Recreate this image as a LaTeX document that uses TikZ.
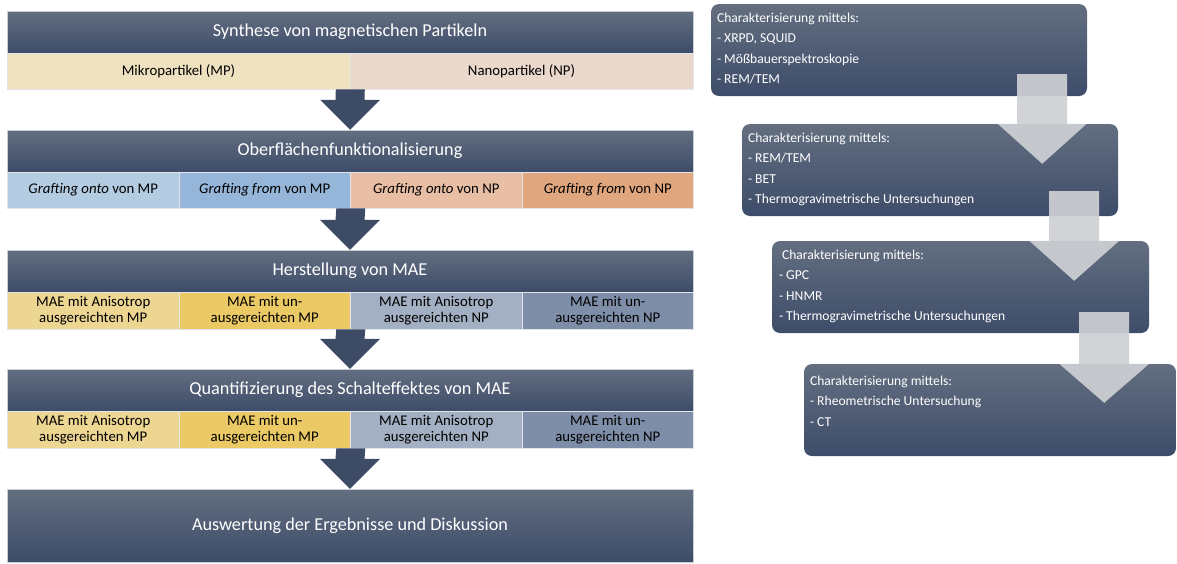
\documentclass[tikz,border=0pt]{standalone}
\usepackage{fontspec}
\setmainfont{Carlito}
\usetikzlibrary{calc}

\definecolor{hdrtop}{HTML}{636E80}
\definecolor{hdrbot}{HTML}{3D4C69}
\definecolor{hdrline}{HTML}{C9CDD4}
\definecolor{cellline}{HTML}{E2E4E8}
\definecolor{darrow}{HTML}{3D4B66}
\definecolor{larrow}{HTML}{CDD0D4}
\definecolor{mpbeige}{HTML}{EFE2C0}
\definecolor{nprose}{HTML}{EBD8CC}
\definecolor{blueA}{HTML}{B4CCE2}
\definecolor{blueB}{HTML}{95B6D9}
\definecolor{orangeA}{HTML}{E8BFA5}
\definecolor{orangeB}{HTML}{E0A67E}
\definecolor{goldA}{HTML}{EDD592}
\definecolor{goldB}{HTML}{EBC965}
\definecolor{slateA}{HTML}{A3AFC2}
\definecolor{slateB}{HTML}{7F8EA8}

% block arrow pointing down: style, top point, tip point, shaft half width, head half width, head length
\newcommand\blockdown[6]{%
  \fill[#1] ($(#2)+(-#4,0)$) -- ($(#2)+(#4,0)$) -- ($(#3)+(#4,-#6)$) -- ($(#3)+(#5,-#6)$)
    -- (#3) -- ($(#3)+(-#5,-#6)$) -- ($(#3)+(-#4,-#6)$) -- cycle;}

\begin{document}
\begin{tikzpicture}[x=1pt,y=-1pt,
  hdr/.style={rectangle, draw=hdrline, line width=0.5pt, top color=hdrtop, bottom color=hdrbot,
    text=white, font=\fontsize{18.2}{21}\selectfont, minimum width=686, minimum height=42, inner sep=0},
  cell/.style={rectangle, draw=cellline, line width=0.6pt, font=\fontsize{14.8}{15.5}\selectfont,
    align=center, inner sep=0, minimum height=36},
  half/.style={cell, minimum width=343},
  quarter/.style={cell, minimum width=171.5},
  charbox/.style={rectangle, rounded corners=8pt, top color=hdrtop, bottom color=hdrbot,
    minimum height=92, inner sep=0},
  chartext/.style={anchor=north west, text=white, align=left, inner sep=0,
    font=\fontsize{13.6}{20.4}\selectfont},
]
\useasboundingbox (0,0) rectangle (1177,563);

% ---------- process column ----------
\node[hdr] (h1) at (350,32) {Synthese von magnetischen Partikeln};
\node[half, fill=mpbeige] (s1a) at (178.5,71) {Mikropartikel (MP)};
\node[half, fill=nprose]  (s1b) at (521.5,71) {Nanopartikel (NP)};

\node[hdr] (h2) at (350,151) {Oberflächenfunktionalisierung};
\node[quarter, fill=blueA]   (s2a) at (93.25,190)  {\textit{Grafting onto} von MP};
\node[quarter, fill=blueB]   (s2b) at (264.75,190) {\textit{Grafting from} von MP};
\node[quarter, fill=orangeA] (s2c) at (436.25,190) {\textit{Grafting onto} von NP};
\node[quarter, fill=orangeB] (s2d) at (607.75,190) {\textit{Grafting from} von NP};

\node[hdr] (h3) at (350,271) {Herstellung von MAE};
\node[quarter, fill=goldA, minimum height=37]  (s3a) at (93.25,310.5)  {MAE mit Anisotrop\\ausgereichten MP};
\node[quarter, fill=goldB, minimum height=37]  (s3b) at (264.75,310.5) {MAE mit un-\\ausgereichten MP};
\node[quarter, fill=slateA, minimum height=37] (s3c) at (436.25,310.5) {MAE mit Anisotrop\\ausgereichten NP};
\node[quarter, fill=slateB, minimum height=37] (s3d) at (607.75,310.5) {MAE mit un-\\ausgereichten NP};

\node[hdr] (h4) at (350,390) {Quantifizierung des Schalteffektes von MAE};
\node[quarter, fill=goldA, minimum height=37]  (s4a) at (93.25,429.5)  {MAE mit Anisotrop\\ausgereichten MP};
\node[quarter, fill=goldB, minimum height=37]  (s4b) at (264.75,429.5) {MAE mit un-\\ausgereichten MP};
\node[quarter, fill=slateA, minimum height=37] (s4c) at (436.25,429.5) {MAE mit Anisotrop\\ausgereichten NP};
\node[quarter, fill=slateB, minimum height=37] (s4d) at (607.75,429.5) {MAE mit un-\\ausgereichten NP};

\node[hdr, minimum height=73] (h5) at (350,525.5) {Auswertung der Ergebnisse und Diskussion};

% dark arrows between the stages
\blockdown{darrow}{s1a.south east}{h2.north}{14.5}{30}{30}
\blockdown{darrow}{s2b.south east}{h3.north}{14.5}{30}{30}
\blockdown{darrow}{s3b.south east}{h4.north}{14.5}{30}{30}
\blockdown{darrow}{s4b.south east}{h5.north}{14.5}{30}{30}

% ---------- characterisation column ----------
\node[charbox, minimum width=376] (c1) at (899,50) {};
\node[chartext] (t1) at ($(c1.north west)+(6,9)$)
  {Charakterisierung mittels:\\- XRPD, SQUID\\- Mößbauerspektroskopie\\- REM/TEM};

\node[charbox, minimum width=376] (c2) at (930,170) {};
\node[chartext] (t2) at ($(c2.north west)+(6,9)$)
  {Charakterisierung mittels:\\- REM/TEM\\- BET\\- Thermogravimetrische Untersuchungen};

\node[charbox, minimum width=377] (c3) at (960.5,287) {};
\node[chartext] (t3) at ($(c3.north west)+(7,9)$)
  {\hspace{3pt}Charakterisierung mittels:\\- GPC\\- HNMR\\- Thermogravimetrische Untersuchungen};

\node[charbox, minimum width=372] (c4) at (990,410) {};
\node[chartext] (t4) at ($(c4.north west)+(6,12)$)
  {Charakterisierung mittels:\\- Rheometrische Untersuchung\\- CT};

% light arrows linking the characterisation boxes
\coordinate (r1t) at ($(c1.south east)+(-45,-22)$);
\coordinate (r1h) at ($(r1t |- c2.north)+(0,40)$);
\blockdown{larrow, opacity=0.93}{r1t}{r1h}{25}{44.5}{40}
\coordinate (r2t) at ($(c2.south east)+(-44,-25)$);
\coordinate (r2h) at ($(r2t |- c3.north)+(0,40)$);
\blockdown{larrow, opacity=0.93}{r2t}{r2h}{25}{45}{40}
\coordinate (r3t) at ($(c3.south east)+(-45,-21)$);
\coordinate (r3h) at ($(r3t |- c4.north)+(0,39)$);
\blockdown{larrow, opacity=0.93}{r3t}{r3h}{25}{45}{39}
\end{tikzpicture}
\end{document}
